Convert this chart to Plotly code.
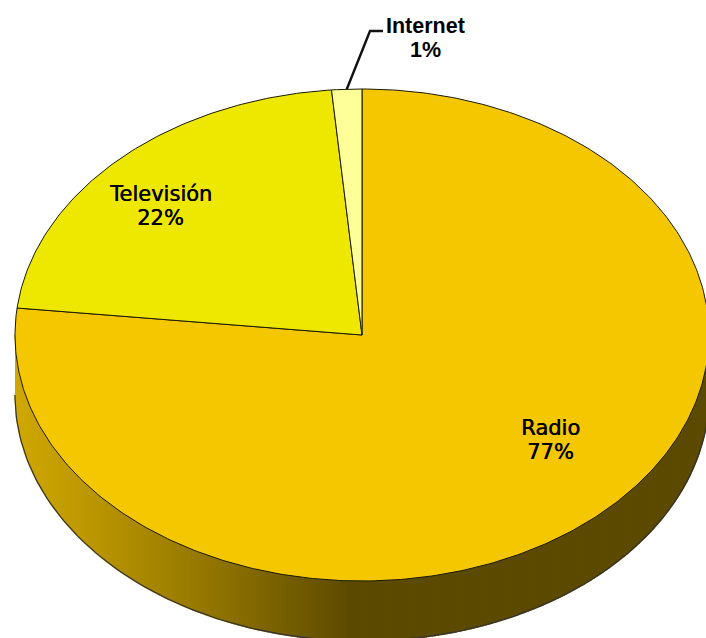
import numpy as np
import plotly.graph_objects as go

categories = ["Radio", "Televisión", "Internet"]
shares = [76.75, 21.85, 1.4]
share_labels = ["77%", "22%", "1%"]
slice_colors = ["#F4C700", "#EEE800", "#FFFF99"]

W, H = 706, 638
CX, CY, RX, RY, DEPTH = 362, 335, 347, 246, 60
OUTLINE = "#1a1a00"

# shading of the rim as a function of horizontal position
shade_x = [15, 100, 200, 300, 350, 709]
shade_rgb = np.array([[208, 168, 0], [184, 148, 0], [150, 120, 0], [112, 90, 0], [92, 74, 0], [92, 74, 0]], float)


def rim(theta):
    return CX + RX * np.sin(theta), CY - RY * np.cos(theta)


fig = go.Figure()

# rim of the disc, in narrow vertical bands of equal width
band_edges = np.arange(CX - RX, CX + RX + 0.1, 3.0)
for xa, xb in zip(band_edges[:-1], band_edges[1:]):
    x = np.linspace(xa, xb, 3)
    y = CY + RY * np.sqrt(np.clip(1 - ((x - CX) / RX) ** 2, 0, 1))
    c = [int(round(np.interp(x.mean(), shade_x, shade_rgb[:, k]))) for k in range(3)]
    col = f"rgb({c[0]},{c[1]},{c[2]})"
    fig.add_trace(go.Scatter(
        x=np.r_[x, x[::-1]], y=np.r_[y, y[::-1] + DEPTH],
        mode="lines", fill="toself", fillcolor=col,
        line=dict(color=col, width=1.5), hoverinfo="skip", showlegend=False))

# outline of the lower rim
t = np.radians(np.linspace(90, 270, 181))
x, y = rim(t)
fig.add_trace(go.Scatter(x=x, y=y + DEPTH, mode="lines",
                         line=dict(color="#333", width=1.2), hoverinfo="skip", showlegend=False))

# top face: slices start at twelve o'clock and run clockwise
start = 0.0
total = sum(shares)
mids = {}
for name, val, col in zip(categories, shares, slice_colors):
    end = start + val / total * 2 * np.pi
    t = np.linspace(start, end, max(6, int(val * 5)))
    x, y = rim(t)
    fig.add_trace(go.Scatter(
        x=np.r_[CX, x, CX], y=np.r_[CY, y, CY],
        mode="lines", fill="toself", fillcolor=col,
        line=dict(color=OUTLINE, width=1), name=name,
        hovertemplate=f"{name}: {val}<extra></extra>", showlegend=False))
    mids[name] = (start + end) / 2
    start = end

# leader line for the thin slice
lx, ly = rim(mids["Internet"])
fig.add_trace(go.Scatter(x=[lx, 370, 383], y=[ly, 31, 31], mode="lines",
                         line=dict(color="#111", width=2.4), hoverinfo="skip", showlegend=False))

label_pos = {"Radio": (550, 428), "Televisión": (160, 194), "Internet": (425, 26)}
for name, share in zip(categories, share_labels):
    px, py = label_pos[name]
    thin = name != "Internet"
    for dy, txt in zip((0, 24), (name, share)):
        fig.add_annotation(x=px, y=py + dy, text=txt, showarrow=False,
                           xanchor="center", yanchor="middle",
                           font=dict(family="DejaVu Sans" if thin else "Liberation Sans",
                                     size=21 if thin else 21.5, color="#000",
                                     weight="normal" if thin else "bold",
                                     shadow="0.5px 0 0 #000" if thin else "none"))

fig.update_layout(
    width=W, height=H, margin=dict(l=0, r=0, t=0, b=0),
    paper_bgcolor="white", plot_bgcolor="white", showlegend=False,
    xaxis=dict(range=[0, W], visible=False, fixedrange=True),
    yaxis=dict(range=[H, 0], visible=False, fixedrange=True),
)
fig.write_html("out.html", config={"displayModeBar": False},
               post_script="document.body.style.margin='0';document.documentElement.style.overflow='hidden';")
